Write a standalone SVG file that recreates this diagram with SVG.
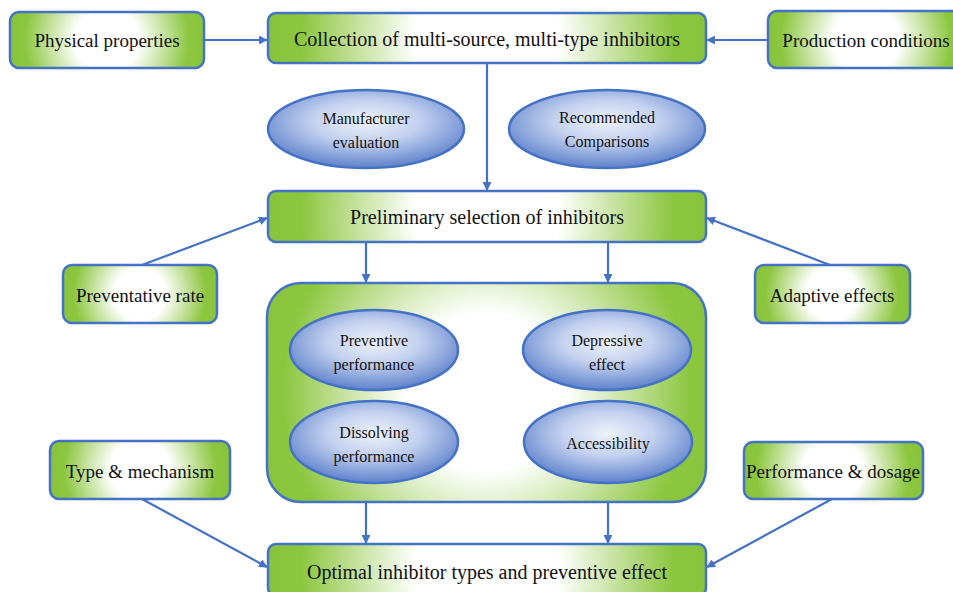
<svg xmlns="http://www.w3.org/2000/svg" width="953" height="592" viewBox="0 0 953 592">
<style>
.box{stroke:#4472C4;stroke-width:2.5}
.ell{stroke:#4472C4;stroke-width:2.5;fill:url(#b)}
.t{font-size:19px;fill:#111;text-anchor:middle}
.tw{font-size:20px;fill:#111;text-anchor:middle}
.te{font-size:16px;fill:#111;text-anchor:middle}
.c{stroke:#4472C4;stroke-width:2.2;fill:none;marker-end:url(#a)}
</style>
<defs>
<radialGradient id="gs">
<stop offset="0" stop-color="#ffffff"/>
<stop offset="0.33" stop-color="#ffffff"/>
<stop offset="0.85" stop-color="#8cc63f"/>
<stop offset="1" stop-color="#88c43b"/>
</radialGradient>
<radialGradient id="g1" href="#gs" gradientUnits="userSpaceOnUse" cx="107" cy="40" r="97"/>
<radialGradient id="g2" href="#gs" gradientUnits="userSpaceOnUse" cx="487" cy="38" r="219"/>
<radialGradient id="g3" href="#gs" gradientUnits="userSpaceOnUse" cx="866" cy="40" r="100"/>
<radialGradient id="g4" href="#gs" gradientUnits="userSpaceOnUse" cx="487" cy="216" r="219"/>
<radialGradient id="g5" href="#gs" gradientUnits="userSpaceOnUse" cx="140" cy="294" r="78"/>
<radialGradient id="g6" href="#gs" gradientUnits="userSpaceOnUse" cx="832" cy="294" r="78"/>
<radialGradient id="g7" href="#gs" gradientUnits="userSpaceOnUse" cx="486" cy="392" r="240"/>
<radialGradient id="g8" href="#gs" gradientUnits="userSpaceOnUse" cx="140" cy="470" r="90"/>
<radialGradient id="g9" href="#gs" gradientUnits="userSpaceOnUse" cx="833" cy="470" r="90"/>
<radialGradient id="g10" href="#gs" gradientUnits="userSpaceOnUse" cx="487" cy="570" r="219"/>
<radialGradient id="b" cx="50%" cy="40%" r="60%">
<stop offset="0" stop-color="#eef2fb"/>
<stop offset="0.45" stop-color="#c3d1ef"/>
<stop offset="1" stop-color="#5f82cc"/>
</radialGradient>
<marker id="a" viewBox="0 0 10 10" refX="9" refY="5" markerWidth="4" markerHeight="4" orient="auto" markerUnits="strokeWidth">
<path d="M0,0 L10,5 L0,10 z" fill="#4472C4"/>
</marker>
</defs>
<g id="connectors">
<line class="c" x1="204" y1="40" x2="267" y2="40"/>
<line class="c" x1="768" y1="40" x2="707" y2="40"/>
<line class="c" x1="487" y1="64" x2="487" y2="190"/>
<line class="c" x1="142" y1="265" x2="267" y2="218"/>
<line class="c" x1="830" y1="265" x2="707" y2="218"/>
<line class="c" x1="366" y1="242" x2="366" y2="282"/>
<line class="c" x1="608" y1="242" x2="608" y2="282"/>
<line class="c" x1="366" y1="502" x2="366" y2="543"/>
<line class="c" x1="608" y1="502" x2="608" y2="543"/>
<line class="c" x1="142" y1="499" x2="267" y2="567"/>
<line class="c" x1="832" y1="499" x2="707" y2="567"/>
</g>
<g font-family="Liberation Serif, Times New Roman, serif">
<g id="physical"><rect class="box" fill="url(#g1)" x="10" y="12" width="194" height="56" rx="9"/><text class="t" x="107" y="47">Physical properties</text></g>
<g id="collection"><rect class="box" fill="url(#g2)" x="268" y="13" width="438" height="50" rx="8"/><text class="tw" x="487" y="46">Collection of multi-source, multi-type inhibitors</text></g>
<g id="production"><rect class="box" fill="url(#g3)" x="768" y="11" width="200" height="57" rx="9"/><text class="t" x="866" y="47">Production conditions</text></g>
<g id="manufacturer"><ellipse class="ell" cx="366" cy="129" rx="98" ry="39"/><text class="te" x="366" y="124">Manufacturer</text><text class="te" x="366" y="148">evaluation</text></g>
<g id="recommended"><ellipse class="ell" cx="607" cy="129" rx="98" ry="39"/><text class="te" x="607" y="123">Recommended</text><text class="te" x="607" y="147">Comparisons</text></g>
<g id="preliminary"><rect class="box" fill="url(#g4)" x="268" y="191" width="438" height="51" rx="8"/><text class="tw" x="487" y="224">Preliminary selection of inhibitors</text></g>
<g id="preventative"><rect class="box" fill="url(#g5)" x="63" y="265" width="154" height="58" rx="9"/><text class="t" x="140" y="302">Preventative rate</text></g>
<g id="adaptive"><rect class="box" fill="url(#g6)" x="755" y="265" width="155" height="58" rx="9"/><text class="t" x="832" y="302">Adaptive effects</text></g>
<g id="middle"><rect class="box" fill="url(#g7)" x="267" y="283" width="439" height="219" rx="34"/>
<g id="preventive"><ellipse class="ell" cx="374" cy="350" rx="84" ry="40"/><text class="te" x="374" y="346">Preventive</text><text class="te" x="374" y="370">performance</text></g>
<g id="depressive"><ellipse class="ell" cx="607" cy="350" rx="84" ry="40"/><text class="te" x="607" y="346">Depressive</text><text class="te" x="607" y="370">effect</text></g>
<g id="dissolving"><ellipse class="ell" cx="374" cy="442" rx="84" ry="41"/><text class="te" x="374" y="438">Dissolving</text><text class="te" x="374" y="462">performance</text></g>
<g id="accessibility"><ellipse class="ell" cx="608" cy="442" rx="84" ry="41"/><text class="te" x="608" y="449">Accessibility</text></g>
</g>
<g id="type"><rect class="box" fill="url(#g8)" x="50" y="441" width="180" height="58" rx="9"/><text class="t" x="140" y="478">Type &amp; mechanism</text></g>
<g id="performance"><rect class="box" fill="url(#g9)" x="744" y="442" width="179" height="57" rx="9"/><text class="t" x="833" y="478">Performance &amp; dosage</text></g>
<g id="optimal"><rect class="box" fill="url(#g10)" x="268" y="544" width="438" height="52" rx="8"/><text class="tw" x="487" y="579">Optimal inhibitor types and preventive effect</text></g>
</g>
</svg>
